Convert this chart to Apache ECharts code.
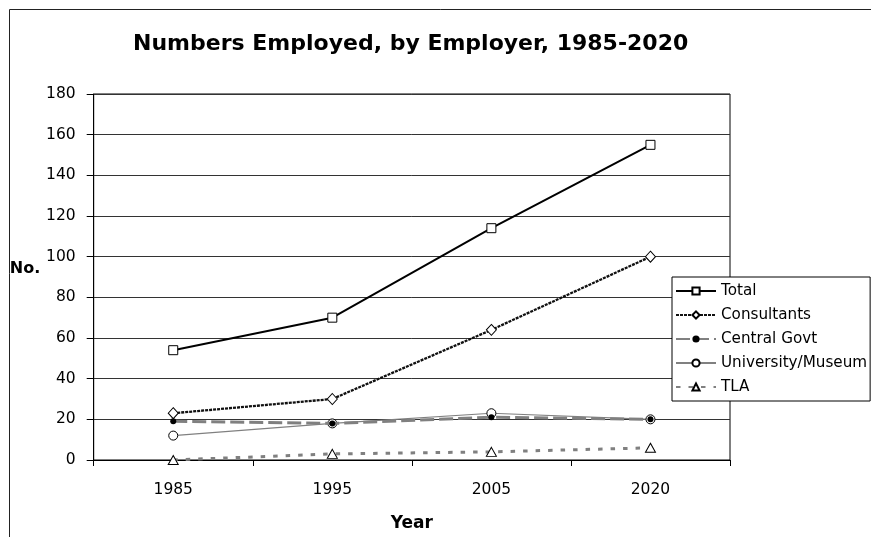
<!DOCTYPE html>
<html>
<head>
<meta charset="utf-8">
<script src="https://cdn.jsdelivr.net/npm/echarts@6/dist/echarts.min.js"></script>
<style>
html,body{margin:0;padding:0;background:#fff;}
#chart{width:871px;height:537px;}
</style>
</head>
<body>
<div id="chart"></div>
<script>
const titleText = 'Numbers Employed, by Employer, 1985-2020';
const years = ['1985', '1995', '2005', '2020'];
const seriesNames = ['Total', 'Consultants', 'Central Govt', 'University/Museum', 'TLA'];
const total = [54, 70, 114, 155];
const consultants = [23, 30, 64, 100];
const centralGovt = [19, 18, 21, 20];
const universityMuseum = [12, 18, 23, 20];
const tla = [0, 3, 4, 6];
const yTicks = { min: 0, max: 180, interval: 20 };

const FONT = 'DejaVu Sans';
const chart = echarts.init(document.getElementById('chart'), null, { renderer: 'canvas' });

const option = {
  backgroundColor: '#fff',
  animation: false,
  graphic: [{
    type: 'rect',
    shape: { x: 9.5, y: 9.5, width: 1000, height: 1000 },
    style: { fill: 'none', stroke: '#222', lineWidth: 1 },
    z: -1
  }],
  title: {
    text: titleText,
    left: 133,
    top: 33,
    padding: 0,
    textStyle: { fontFamily: FONT, fontWeight: 'bold', fontSize: 22, color: '#000' }
  },
  legend: {
    data: seriesNames,
    orient: 'vertical',
    left: 672,
    top: 277,
    padding: [6, 3, 6, 3],
    itemGap: 8,
    itemWidth: 40,
    itemHeight: 9,
    backgroundColor: '#fff',
    borderColor: '#000',
    borderWidth: 1,
    borderRadius: 0,
    textStyle: { fontFamily: FONT, fontSize: 15.2, color: '#000', lineHeight: 16 },
    selectedMode: false
  },
  grid: {
    left: 93.7, right: 141, top: 94, bottom: 75.5,
    show: true, borderColor: '#000', borderWidth: 1, backgroundColor: 'transparent'
  },
  xAxis: {
    type: 'category',
    data: years,
    boundaryGap: true,
    name: 'Year',
    nameLocation: 'middle',
    nameGap: 55,
    nameTextStyle: { fontFamily: FONT, fontWeight: 'bold', fontSize: 17, color: '#000' },
    axisLine: { lineStyle: { color: '#000', width: 1 } },
    axisTick: { show: true, length: 6, lineStyle: { color: '#000' } },
    axisLabel: { fontFamily: FONT, fontSize: 15.5, color: '#000', margin: 22 },
    splitLine: { show: false }
  },
  yAxis: {
    type: 'value',
    min: yTicks.min, max: yTicks.max, interval: yTicks.interval,
    name: 'No.',
    nameLocation: 'middle',
    nameRotate: 0,
    nameGap: 51,
    nameTextStyle: { fontFamily: FONT, fontWeight: 'bold', fontSize: 16, color: '#000', align: 'right', verticalAlign: 'bottom' },
    axisLine: { show: true, lineStyle: { color: '#000', width: 1 } },
    axisTick: { show: true, length: 7, lineStyle: { color: '#000' } },
    axisLabel: { fontFamily: FONT, fontSize: 15.5, color: '#000', margin: 18 },
    splitLine: { show: true, lineStyle: { color: '#333', width: 1 } }
  },
  series: [
    {
      name: 'Total', type: 'line', data: total, z: 6,
      symbol: 'rect', symbolSize: 9,
      lineStyle: { color: '#000', width: 2 },
      itemStyle: { color: '#fff', borderColor: '#000', borderWidth: 1 }
    },
    {
      name: 'Consultants', type: 'line', data: consultants, z: 5,
      symbol: 'diamond', symbolSize: [10, 11],
      lineStyle: { color: '#111', width: 2.3, type: [3, 1] },
      itemStyle: { color: '#fff', borderColor: '#000', borderWidth: 1 }
    },
    {
      name: 'Central Govt', type: 'line', data: centralGovt, z: 4,
      symbol: 'circle', symbolSize: 6,
      lineStyle: { color: '#808080', width: 3, type: [14, 5] },
      itemStyle: { color: '#000', borderColor: '#000', borderWidth: 0 }
    },
    {
      name: 'University/Museum', type: 'line', data: universityMuseum, z: 3,
      symbol: 'circle', symbolSize: 9,
      lineStyle: { color: '#808080', width: 1.2 },
      itemStyle: { color: '#fff', borderColor: '#000', borderWidth: 1 }
    },
    {
      name: 'TLA', type: 'line', data: tla, z: 3,
      symbol: 'triangle', symbolSize: [10, 9],
      lineStyle: { color: '#808080', width: 3, type: [4.5, 8] },
      itemStyle: { color: '#fff', borderColor: '#000', borderWidth: 1 }
    }
  ]
};
chart.setOption(option);
</script>
</body>
</html>
